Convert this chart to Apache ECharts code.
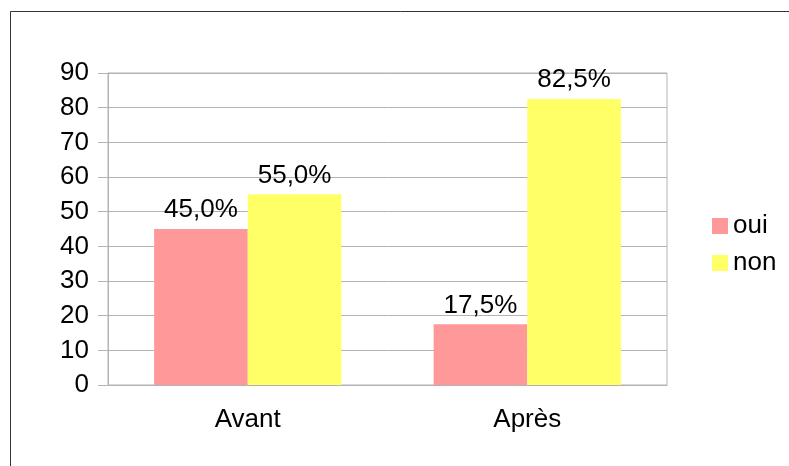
<!DOCTYPE html>
<html><head><meta charset="utf-8">
<script src="https://cdn.jsdelivr.net/npm/echarts@6/dist/echarts.min.js"></script>
<style>html,body{margin:0;padding:0;background:#fff}#c{width:789px;height:466px}</style>
</head><body><div id="c"></div>
<script>
const categories = ['Avant', 'Après'];
const oui = [45.0, 17.5];
const non = [55.0, 82.5];
const seriesNames = ['oui', 'non'];
const FONT = '"Liberation Sans", Arial, sans-serif';
const chart = echarts.init(document.getElementById('c'));
const fmt = p => p.value.toFixed(1).replace('.', ',') + '%';
chart.setOption({
  backgroundColor: '#fff',
  animation: false,
  graphic: [{type:'rect', shape:{x:10.5, y:11.5, width:900, height:900}, style:{fill:'none', stroke:'#333', lineWidth:1}, z:-1}],
  grid: {left:108, right:122, top:73, bottom:81, show:true, borderColor:'#b3b3b3', borderWidth:1},
  legend: {orient:'vertical', left:707, top:208, itemWidth:16, itemHeight:16, itemGap:11,
    icon:'rect', textStyle:{fontFamily:FONT, fontSize:26, color:'#000'}, data:seriesNames},
  xAxis: {type:'category', data:categories,
    axisLine:{lineStyle:{color:'#b3b3b3'}},
    axisTick:{length:11, lineStyle:{color:'#b3b3b3'}},
    axisLabel:{margin:22, fontFamily:FONT, fontSize:26, color:'#000'}},
  yAxis: {type:'value', min:0, max:90, interval:10,
    axisLine:{show:true, lineStyle:{color:'#b3b3b3'}},
    axisTick:{show:true, length:10, lineStyle:{color:'#b3b3b3'}},
    splitLine:{lineStyle:{color:'#b3b3b3'}},
    axisLabel:{margin:19, fontFamily:FONT, fontSize:26, color:'#000'}},
  series: [
    {name:seriesNames[0], type:'bar', data:oui, barGap:'0%', barCategoryGap:'33%', itemStyle:{color:'#ff9999'},
      label:{show:true, position:'top', distance:6, formatter:fmt, fontFamily:FONT, fontSize:26, color:'#000'}},
    {name:seriesNames[1], type:'bar', data:non, barGap:'0%', barCategoryGap:'33%', itemStyle:{color:'#ffff66'},
      label:{show:true, position:'top', distance:6, formatter:fmt, fontFamily:FONT, fontSize:26, color:'#000'}}
  ]
});
</script></body></html>
